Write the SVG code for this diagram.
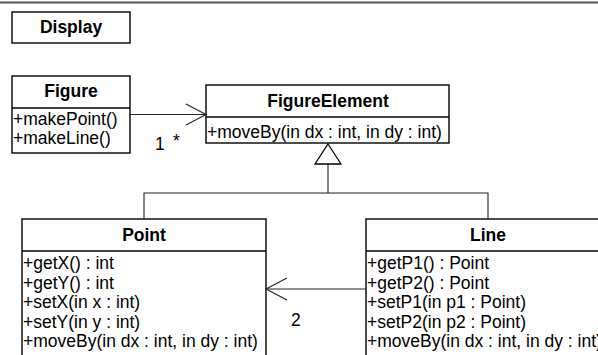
<svg xmlns="http://www.w3.org/2000/svg" width="598" height="355" viewBox="0 0 598 355">
  <style>
    .box { fill: #ffffff; stroke: #000000; stroke-width: 1.4; }
    .sep { stroke: #000000; stroke-width: 1.4; }
    .title { font-family: "Liberation Sans", Arial, sans-serif; font-size: 17.5px; font-weight: bold; text-anchor: middle; fill: #000000; }
    .member { font-family: "Liberation Sans", Arial, sans-serif; font-size: 17.5px; fill: #000000; }
    .label { font-family: "Liberation Sans", Arial, sans-serif; font-size: 17.5px; fill: #000000; }
    .conn { fill: none; stroke: #222222; stroke-width: 1.1; }
    .gen { fill: #ffffff; stroke: #000000; stroke-width: 1.3; }
  </style>

  <rect width="598" height="355" fill="#ffffff"/>
  <!-- page border at the top -->
  <line x1="0" y1="2.5" x2="598" y2="2.5" stroke="#555555" stroke-width="2"/>

  <g id="display">
    <rect class="box" x="12" y="12" width="118" height="31"/>
    <text class="title" x="71" y="33">Display</text>
  </g>

  <g id="figure">
    <rect class="box" x="12" y="76" width="118" height="77"/>
    <line class="sep" x1="12" y1="108" x2="130" y2="108"/>
    <text class="title" x="71" y="97">Figure</text>
    <text class="member" x="13" y="124.5">+makePoint()</text>
    <text class="member" x="13" y="143.5">+makeLine()</text>
  </g>

  <g id="figure-element">
    <rect class="box" x="206" y="85" width="243" height="58"/>
    <line class="sep" x1="206" y1="117" x2="449" y2="117"/>
    <text class="title" x="328" y="107">FigureElement</text>
    <text class="member" x="207" y="138">+moveBy(in dx : int, in dy : int)</text>
  </g>

  <g id="point">
    <rect class="box" x="22" y="219" width="244" height="150"/>
    <line class="sep" x1="22" y1="251" x2="266" y2="251"/>
    <text class="title" x="144" y="241">Point</text>
    <text class="member" x="23" y="269">+getX() : int</text>
    <text class="member" x="23" y="288.5">+getY() : int</text>
    <text class="member" x="23" y="308">+setX(in x : int)</text>
    <text class="member" x="23" y="327.5">+setY(in y : int)</text>
    <text class="member" x="23" y="347">+moveBy(in dx : int, in dy : int)</text>
  </g>

  <g id="line">
    <rect class="box" x="366" y="219" width="244" height="150"/>
    <line class="sep" x1="366" y1="251" x2="610" y2="251"/>
    <text class="title" x="488" y="241">Line</text>
    <text class="member" x="367" y="269">+getP1() : Point</text>
    <text class="member" x="367" y="288.5">+getP2() : Point</text>
    <text class="member" x="367" y="308">+setP1(in p1 : Point)</text>
    <text class="member" x="367" y="327.5">+setP2(in p2 : Point)</text>
    <text class="member" x="367" y="347">+moveBy(in dx : int, in dy : int)</text>
  </g>

  <g id="connectors">
    <!-- Figure -> FigureElement association -->
    <line class="conn" x1="130" y1="114.5" x2="206" y2="114.5"/>
    <polyline class="conn" points="186,104 206,114.5 186,125"/>
    <text class="label" x="155" y="150">1</text>
    <text class="label" x="173" y="147">*</text>

    <!-- generalization: Point, Line -> FigureElement -->
    <polyline class="conn" points="144,219 144,193 488,193 488,219"/>
    <line class="conn" x1="328" y1="193" x2="328" y2="164"/>
    <polygon class="gen" points="328,144 341,164 315,164"/>

    <!-- Line -> Point association -->
    <line class="conn" x1="366" y1="289" x2="266" y2="289"/>
    <polyline class="conn" points="287,278 266,289 287,300"/>
    <text class="label" x="291" y="326">2</text>
  </g>
</svg>
